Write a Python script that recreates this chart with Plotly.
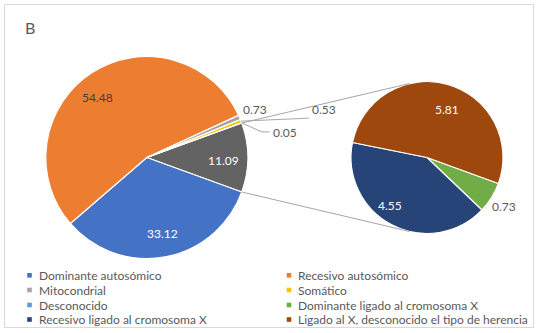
import math
import plotly.graph_objects as go

W, H = 541, 333

# ---------------- data ----------------
main_labels = ["Otros", "Dominante autosómico", "Recesivo autosómico",
               "Mitocondrial", "Somático", "Desconocido"]
main_values = [11.09, 33.12, 54.48, 0.73, 0.53, 0.05]

sec_labels = ["Dominante ligado al cromosoma X",
              "Recesivo ligado al cromosoma X",
              "Ligado al X, desconocido el tipo de herencia"]
sec_values = [0.73, 4.55, 5.81]

legend_labels = ["Dominante autosómico", "Recesivo autosómico",
                 "Mitocondrial", "Somático",
                 "Desconocido", "Dominante ligado al cromosoma X",
                 "Recesivo ligado al cromosoma X",
                 "Ligado al X, desconocido el tipo de herencia"]

title_text = "B"

# ---------------- styles ----------------
colors = {
    "Otros": "#636363",
    "Dominante autosómico": "#4472C4",
    "Recesivo autosómico": "#ED7D31",
    "Mitocondrial": "#A5A5A5",
    "Somático": "#FFC000",
    "Desconocido": "#5B9BD5",
    "Dominante ligado al cromosoma X": "#70AD47",
    "Recesivo ligado al cromosoma X": "#264478",
    "Ligado al X, desconocido el tipo de herencia": "#9E480E",
}
FONT = "Lato, 'Open Sans', sans-serif"
TXT = "#595959"

MAIN_C, MAIN_R = (146.8, 157.5), 101.0
SEC_C, SEC_R = (427.0, 157.5), 76.0
SEC_ROTATION = 110


def domain(c, r):
    return dict(x=[(c[0] - r) / W, (c[0] + r) / W],
                y=[1 - (c[1] + r) / H, 1 - (c[1] - r) / H])


def slice_angles(values, rotation):
    tot = sum(values)
    a, out = rotation, []
    for v in values:
        span = v / tot * 360.0
        out.append((a, a + span))
        a += span
    return out


def pt(c, r, a_deg):
    a = math.radians(a_deg)
    return (c[0] + r * math.sin(a), c[1] - r * math.cos(a))


def px(x):
    return x / W


def py(y):
    return 1 - y / H


main_rotation = 90 - main_values[0] / sum(main_values) * 360.0 / 2
main_ang = slice_angles(main_values, main_rotation)
sec_ang = slice_angles(sec_values, SEC_ROTATION)

fig = go.Figure()
fig.add_trace(go.Pie(
    labels=main_labels, values=main_values, sort=False, direction="clockwise",
    rotation=main_rotation, domain=domain(MAIN_C, MAIN_R), textinfo="none",
    marker=dict(colors=[colors[l] for l in main_labels],
                line=dict(color="white", width=1.2)),
    showlegend=False, hoverinfo="label+value"))
fig.add_trace(go.Pie(
    labels=sec_labels, values=sec_values, sort=False, direction="clockwise",
    rotation=SEC_ROTATION, domain=domain(SEC_C, SEC_R), textinfo="none",
    marker=dict(colors=[colors[l] for l in sec_labels],
                line=dict(color="white", width=1.2)),
    showlegend=False, hoverinfo="label+value"))

annotations = []
shapes = []


def fmt(v):
    return f"{v:.2f}"


def add_label(c, r, ang, frac, nudge, text, color):
    a = (ang[0] + ang[1]) / 2 + nudge
    x, y = pt(c, r * frac, a)
    annotations.append(dict(x=px(x), y=py(y), xref="paper", yref="paper",
                            text=text, showarrow=False, xanchor="center",
                            yanchor="middle",
                            font=dict(family=FONT, size=12, color=color)))


# inside labels, main pie
add_label(MAIN_C, MAIN_R, main_ang[0], 0.76, 2, fmt(main_values[0]), "white")
add_label(MAIN_C, MAIN_R, main_ang[1], 0.77, -1, fmt(main_values[1]), "white")
add_label(MAIN_C, MAIN_R, main_ang[2], 0.77, -7, fmt(main_values[2]), "#404040")
# secondary pie
add_label(SEC_C, SEC_R, sec_ang[2], 0.68, 7, fmt(sec_values[2]), "white")
add_label(SEC_C, SEC_R, sec_ang[1], 0.80, 10, fmt(sec_values[1]), "white")
add_label(SEC_C, SEC_R, sec_ang[0], 1.20, 1, fmt(sec_values[0]), TXT)

# small slices of main pie (outside labels with leader lines)
LEADER = "#A6A6A6"
e0 = pt(MAIN_C, MAIN_R, sum(main_ang[3]) / 2)
annotations.append(dict(x=px(e0[0] + 1), y=py(e0[1] - 8), xref="paper", yref="paper",
                        text=fmt(main_values[3]), showarrow=False, xanchor="left",
                        yanchor="middle", font=dict(family=FONT, size=12, color=TXT)))
e1 = pt(MAIN_C, MAIN_R, sum(main_ang[4]) / 2)
end1 = (e1[0] + 68, e1[1] - 3)
shapes.append(dict(type="line", xref="paper", yref="paper",
                   x0=px(e1[0]), y0=py(e1[1]), x1=px(end1[0]), y1=py(end1[1]),
                   line=dict(color=LEADER, width=1)))
annotations.append(dict(x=px(end1[0] + 1), y=py(end1[1] + 1), xref="paper", yref="paper",
                        text=fmt(main_values[4]), showarrow=False, xanchor="left",
                        yanchor="bottom", font=dict(family=FONT, size=12, color=TXT)))
e2 = pt(MAIN_C, MAIN_R, sum(main_ang[5]) / 2)
elb = (e2[0] + 20, e2[1] + 9)
end2 = (elb[0] + 8, elb[1])
shapes.append(dict(type="path", xref="paper", yref="paper",
                   path=f"M {px(e2[0])},{py(e2[1])} L {px(elb[0])},{py(elb[1])} L {px(end2[0])},{py(end2[1])}",
                   line=dict(color=LEADER, width=1)))
annotations.append(dict(x=px(end2[0] + 1), y=py(end2[1] + 1), xref="paper", yref="paper",
                        text=fmt(main_values[5]), showarrow=False, xanchor="left",
                        yanchor="middle", font=dict(family=FONT, size=12, color=TXT)))


# connector lines: from "other" slice edges tangent to secondary pie
def tangent_point(ext, c, r, side):
    dx, dy = ext[0] - c[0], ext[1] - c[1]
    d = math.hypot(dx, dy)
    base = math.degrees(math.atan2(dx, -dy))
    off = math.degrees(math.acos(r / d))
    return pt(c, r, base + side * off)


top_ext = pt(MAIN_C, MAIN_R, main_ang[0][0])
bot_ext = pt(MAIN_C, MAIN_R, main_ang[0][1])
for ext, side in ((top_ext, 1), (bot_ext, -1)):
    tp = tangent_point(ext, SEC_C, SEC_R, side)
    shapes.append(dict(type="line", xref="paper", yref="paper",
                       x0=px(ext[0]), y0=py(ext[1]), x1=px(tp[0]), y1=py(tp[1]),
                       line=dict(color=LEADER, width=1)))

# legend (two columns, filled row-wise)
col_marker_x = [29.5, 289.0]
col_text_x = [36.5, 296.0]
row_y = [275.3, 290.0, 305.0, 319.5]
for i, lab in enumerate(legend_labels):
    col, row = i % 2, i // 2
    mx, my = col_marker_x[col], row_y[row]
    shapes.append(dict(type="rect", xref="paper", yref="paper",
                       x0=px(mx - 2.3), x1=px(mx + 2.3), y0=py(my - 2.3), y1=py(my + 2.3),
                       fillcolor=colors[lab], line=dict(width=0)))
    annotations.append(dict(x=px(col_text_x[col]), y=py(my), xref="paper", yref="paper",
                            text=lab, showarrow=False, xanchor="left", yanchor="middle",
                            font=dict(family=FONT, size=12, color=TXT)))

# title
annotations.append(dict(x=px(22.5), y=py(28), xref="paper", yref="paper", text=title_text,
                        showarrow=False, xanchor="left", yanchor="middle",
                        font=dict(family=FONT, size=16, color="#595959")))

# chart border
shapes.append(dict(type="rect", xref="paper", yref="paper",
                   x0=px(4.5), x1=px(533.5), y0=py(4.5), y1=py(327.5),
                   line=dict(color="#D9D9D9", width=1), fillcolor="rgba(0,0,0,0)"))

fig.update_layout(width=W, height=H, margin=dict(l=0, r=0, t=0, b=0),
                  paper_bgcolor="white", plot_bgcolor="white",
                  annotations=annotations, shapes=shapes, showlegend=False)
fig.write_html("out.html", config={"displayModeBar": False},
               post_script="document.body.style.margin='0';document.body.style.padding='0';")
